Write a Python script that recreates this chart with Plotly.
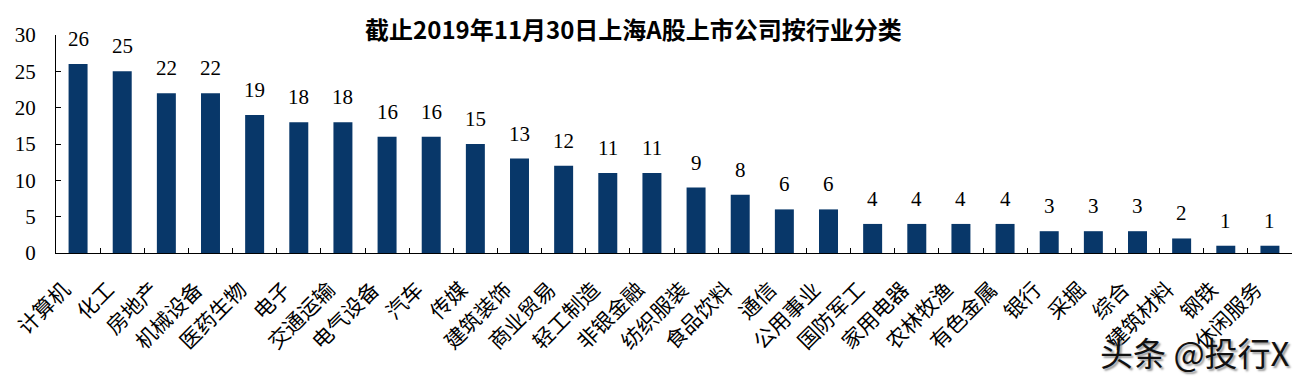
import plotly.graph_objects as go

categories = ["计算机", "化工", "房地产", "机械设备", "医药生物", "电子", "交通运输", "电气设备",
              "汽车", "传媒", "建筑装饰", "商业贸易", "轻工制造", "非银金融", "纺织服装", "食品饮料",
              "通信", "公用事业", "国防军工", "家用电器", "农林牧渔", "有色金属", "银行", "采掘",
              "综合", "建筑材料", "钢铁", "休闲服务"]
counts = [26, 25, 22, 22, 19, 18, 18, 16, 16, 15, 13, 12, 11, 11, 9, 8, 6, 6, 4, 4, 4, 4, 3, 3, 3, 2, 1, 1]
y_ticks = [0, 5, 10, 15, 20, 25, 30]
title_text = "截止2019年11月30日上海A股上市公司按行业分类"
watermark = "头条 @投行X"

W, H = 1298, 380
ML, MR, MT, MB = 56, 6, 35, 127

fig = go.Figure()
fig.add_trace(go.Bar(x=categories, y=counts, marker_color="#083769", marker_line_width=0,
                     hoverinfo="x+y"))

for c, v in zip(categories, counts):
    fig.add_annotation(x=c, y=v, text=str(v), showarrow=False, yanchor="bottom",
                       yshift=11, font=dict(family="Liberation Serif", size=21, color="#000"))

fig.add_annotation(xref="paper", yref="paper", x=1.0, y=-0.455, xanchor="right", yanchor="middle",
                   text=watermark, showarrow=False,
                   font=dict(family="Noto Sans CJK SC", size=33, color="#111",
                             shadow="2px 2px 2px #999"))

fig.update_layout(
    width=W, height=H,
    margin=dict(l=ML, r=MR, t=MT, b=MB),
    paper_bgcolor="white", plot_bgcolor="white",
    bargap=0.57,
    showlegend=False,
    title=dict(text="<b>" + title_text + "</b>", x=0.488, xanchor="center",
               y=1 - 31 / H, yanchor="middle", yref="container",
               font=dict(family="Noto Sans CJK SC", size=24, color="#000")),
    xaxis=dict(
        type="category", tickangle=-45, showline=True, linecolor="#000", linewidth=1,
        ticks="inside", tickson="boundaries", ticklen=5, tickcolor="#000",
        ticklabelstandoff=15, ticklabelshift=-14,
        tickfont=dict(family="Noto Sans CJK SC", size=21, color="#000"),
        showgrid=False, zeroline=False,
    ),
    yaxis=dict(
        range=[0, 30], tickvals=y_ticks, showline=True, linecolor="#000", linewidth=1,
        ticks="inside", ticklen=5, tickcolor="#000", ticklabelstandoff=15,
        tickfont=dict(family="Liberation Serif", size=21, color="#000"),
        showgrid=False, zeroline=False,
    ),
)

fig.write_html("out.html", config={"displayModeBar": False},
               post_script="document.body.style.margin='0px';")
